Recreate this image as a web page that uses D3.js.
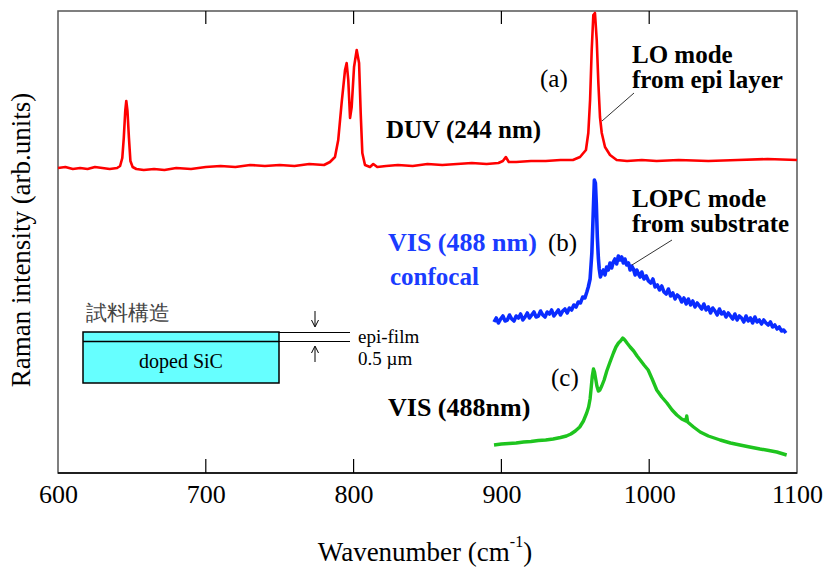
<!DOCTYPE html>
<html><head><meta charset="utf-8">
<script src="https://cdn.jsdelivr.net/npm/d3@7/dist/d3.min.js"></script>
<style>body{margin:0;background:#fff}svg{display:block}text{font-family:"Liberation Serif","Times New Roman",serif}</style>
</head><body>
<script>
// ---- data (wavenumber cm^-1, intensity in arb. units) ----
const xTicks = [600, 700, 800, 900, 1000, 1100];
const innerTicks = [700, 800, 900, 1000];

const duvX = [600,605,610,615,620,625,630,635,640,642,643.5,644.5,645.5,646.2,647,648,649,650.5,653,658,665,672,680,690,700,710,720,730,740,750,760,770,780,784,787.4,789.6,791.9,794.2,795.3,796.4,797.6,798.7,800.3,802.1,803.7,804.8,805.9,807.7,811.1,813.3,816,822,830,840,850,860,870,880,890,898,901,903,905,910,920,930,940,948.4,953.2,957.2,958.8,960,961.1,962.2,963.3,964.5,965.6,966.7,967.9,970.1,973.5,978,985,995,1005,1020,1040,1060,1080,1100];
const duvY = [305,306,304,305,304,306,305,304,305,307,315,335,362,372,362,335,312,306,304,303,304,303,305,304,306,307,306,308,307,308,307,309,308,311,316,333,370,403,410,393,355,366,406,423,410,360,320,308,306,309,306,307,308,307,309,308,309,310,309,310,312,316,311,311,312,312,313,313,316,323,340,373,423,458,460,433,390,356,340,326,318,313,312,313,312,313,312,313,314,313];

const visConfX = [895,896.5,898,899.5,901,902.5,904,905.5,907,908.5,910,911.5,913,914.5,916,917.5,919,920.5,922,923.5,925,926.5,928,929.5,931,932.5,934,935.5,937,938.5,940,941.5,943,944.5,946,947.5,949,950.5,952,953.5,955,956.5,957.8,958.8,960,961.2,962.2,962.9,963.6,964.2,964.9,965.6,966.2,967,967.9,969,970.1,971.2,972.3,973.5,974.6,975.7,976.8,978,979.1,980.2,981.4,982.5,983.6,984.8,986,987.1,988.2,989.3,990.5,991.6,992.7,993.9,995,996.5,998,999.5,1001,1002.5,1004,1005.5,1007,1008.5,1010,1011.5,1013,1014.5,1016,1017.5,1019,1020.5,1022,1023.5,1025,1026.5,1028,1029.5,1031,1032.5,1034,1035.5,1037,1038.5,1040,1041.5,1043,1044.5,1046,1047.5,1049,1050.5,1052,1053.5,1055,1056.5,1058,1059.5,1061,1062.5,1064,1065.5,1067,1068.5,1070,1071.5,1073,1074.5,1076,1077.5,1079,1080.5,1082,1083.5,1085,1086.5,1088,1089.5,1091,1092.5];
const visConfY = [151,155,150,154,157,152,153,158,154,152,157,155,159,153,156,160,155,158,161,156,157,162,158,156,161,159,163,157,160,163,158,162,164,160,165,163,168,166,171,170,176,175,181,186,194,220,263,293,290,270,236,215,204,196,200,203,198,206,203,210,205,211,214,209,217,213,216,210,214,208,210,203,207,204,198,203,199,196,201,194,197,192,190,194,186,188,183,187,181,179,184,177,180,174,178,176,171,175,169,174,168,172,166,170,167,164,169,163,166,160,165,162,158,164,159,161,156,160,157,154,159,153,157,155,151,157,152,155,150,156,151,153,149,153,150,148,151,146,148,144,146,142,143,140];

const visX = [895,900,905,910,915,920,925,930,935,940,944,947,950,953,955.5,957.7,959,960,960.8,961.5,962.3,963,963.8,964.6,965.6,966.6,967.9,969.5,971.3,973.5,975.8,977.5,979.2,980.6,982.1,983.5,985,987.1,989.5,991.8,993.9,996.5,999.3,1002,1005.1,1008.5,1012,1015.5,1018.7,1022,1024.8,1025.4,1026,1030,1034.5,1040,1048,1055,1061.4,1068,1075,1081,1086.3,1093];
const visY = [28,29,29.5,30,31,31.5,32.5,33,34,35.5,37,39,42,46,52,60,66,74,86,97,104,101,94,87,82,83,87,93,102,111,120,126,130,132,135,133,130,126,122,117,113,108,103,94,83,76,70,63,58,54,52,57,51,46,41,37,33,30,28,26,24,22.5,21,18];

const W = 828, H = 575;
const svg = d3.select("body").append("svg").attr("width", W).attr("height", H);
const mLeft = 58, mRight = 797, mTop = 11, mBottom = 473;
const x = d3.scaleLinear().domain([600, 1100]).range([mLeft, mRight]);
const y = d3.scaleLinear().domain([0, 462]).range([mBottom, mTop]);

// frame
svg.append("rect").attr("x", mLeft).attr("y", mTop).attr("width", mRight-mLeft).attr("height", mBottom-mTop)
  .attr("fill", "none").attr("stroke", "#555").attr("stroke-width", 1.5);
svg.append("line").attr("x1", mLeft).attr("x2", mRight).attr("y1", mBottom).attr("y2", mBottom).attr("stroke", "#000").attr("stroke-width", 1.5);

// bottom axis (ticks inward)
const xAxis = d3.axisBottom(x).tickValues(xTicks).tickFormat(d3.format("d")).tickSize(0).tickPadding(0);
const gx = svg.append("g").attr("transform", `translate(0,${mBottom})`).call(xAxis);
gx.select(".domain").remove();
gx.selectAll("text").attr("font-family", "Liberation Serif").attr("font-size", 26).attr("fill", "#000").attr("dy", null).attr("y", 30);
svg.selectAll(".tb").data(innerTicks).enter().append("line")
  .attr("x1", d => x(d)).attr("x2", d => x(d)).attr("y1", mBottom).attr("y2", mBottom - 14).attr("stroke", "#000").attr("stroke-width", 1.2);
svg.selectAll(".tt").data(innerTicks).enter().append("line")
  .attr("x1", d => x(d)).attr("x2", d => x(d)).attr("y1", mTop).attr("y2", mTop + 13).attr("stroke", "#000").attr("stroke-width", 1.2);

// axis titles
const xt = svg.append("text").attr("x", 425).attr("y", 561).attr("text-anchor", "middle").attr("font-size", 27);
xt.append("tspan").text("Wavenumber (cm");
xt.append("tspan").attr("font-size", 16).attr("dy", -14).text("-1");
xt.append("tspan").attr("dy", 14).text(")");
svg.append("text").attr("transform", "translate(30,240) rotate(-90)").attr("text-anchor", "middle").attr("font-size", 27).text("Raman intensity (arb.units)");

// curves
function draw(xs, ys, color, sw) {
  const pts = xs.map((v, i) => [v, ys[i]]);
  svg.append("path").datum(pts)
    .attr("d", d3.line().x(d => x(d[0])).y(d => y(d[1])))
    .attr("fill", "none").attr("stroke", color).attr("stroke-width", sw).attr("stroke-linejoin", "round");
}
draw(duvX, duvY, "#ff0000", 2.6);
draw(visConfX, visConfY, "#0a2cff", 3.6);
draw(visX, visY, "#1ec41e", 3.4);

// annotations
function txt(s, px, py, opts = {}) {
  return svg.append("text").attr("x", px).attr("y", py)
    .attr("font-size", opts.size || 25).attr("font-weight", opts.bold ? "bold" : "normal")
    .attr("fill", opts.color || "#000").attr("text-anchor", opts.anchor || "start").text(s);
}
txt("(a)", 540, 87);
txt("LO mode", 632, 63, {bold: true});
txt("from epi layer", 632, 88, {bold: true});
svg.append("line").attr("x1", 634).attr("y1", 93).attr("x2", 602).attr("y2", 121).attr("stroke", "#333").attr("stroke-width", 1);
txt("DUV (244 nm)", 386, 138, {bold: true});

txt("LOPC mode", 632, 207, {bold: true});
txt("from substrate", 632, 232, {bold: true});
svg.append("line").attr("x1", 672).attr("y1", 240).attr("x2", 632).attr("y2", 265).attr("stroke", "#333").attr("stroke-width", 1);
txt("(b)", 548, 251);
txt("VIS (488 nm)", 388, 251, {bold: true, color: "#1a3cff", size: 26});
txt("confocal", 390, 285, {bold: true, color: "#1a3cff"});

txt("(c)", 551, 386);
txt("VIS (488nm)", 388, 416, {bold: true, size: 26});

// inset: sample structure
svg.append("text").attr("x", 86).attr("y", 320).attr("font-family", "Noto Sans CJK JP").attr("font-size", 21).attr("fill", "#444").text("試料構造");
svg.append("rect").attr("x", 83).attr("y", 332).attr("width", 196).attr("height", 51).attr("fill", "#66ffff").attr("stroke", "#000").attr("stroke-width", 1.5);
svg.append("line").attr("x1", 83).attr("x2", 279).attr("y1", 341.5).attr("y2", 341.5).attr("stroke", "#000").attr("stroke-width", 1.5);
svg.append("line").attr("x1", 279).attr("x2", 350).attr("y1", 332.5).attr("y2", 332.5).attr("stroke", "#000").attr("stroke-width", 1);
svg.append("line").attr("x1", 279).attr("x2", 350).attr("y1", 341.5).attr("y2", 341.5).attr("stroke", "#000").attr("stroke-width", 1);
txt("doped SiC", 181, 368, {size: 20, anchor: "middle"});
// arrows
svg.append("line").attr("x1", 315).attr("x2", 315).attr("y1", 311).attr("y2", 326).attr("stroke", "#000").attr("stroke-width", 1);
svg.append("path").attr("d", "M311.5,320 L315,327 L318.5,320").attr("fill", "none").attr("stroke", "#000").attr("stroke-width", 1);
svg.append("line").attr("x1", 315).attr("x2", 315).attr("y1", 347).attr("y2", 362).attr("stroke", "#000").attr("stroke-width", 1);
svg.append("path").attr("d", "M311.5,353 L315,346 L318.5,353").attr("fill", "none").attr("stroke", "#000").attr("stroke-width", 1);
txt("epi-film", 358, 343, {size: 19});
txt("0.5 \u00b5m", 358, 365, {size: 19});
</script>
</body></html>
